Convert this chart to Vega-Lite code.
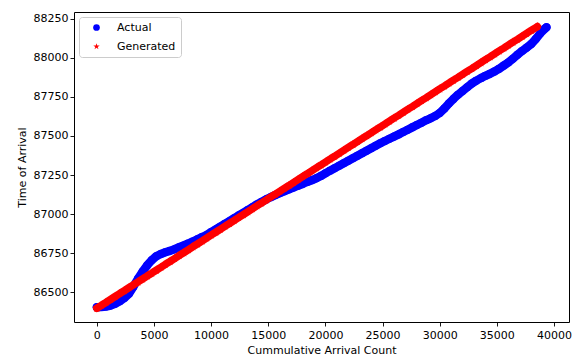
{
  "$schema": "https://vega.github.io/schema/vega-lite/v6.json",
  "width": 495,
  "height": 310,
  "autosize": {"type": "none"},
  "padding": {"left": 74, "top": 12, "right": 3, "bottom": 34},
  "background": "white",
  "config": {
    "font": "DejaVu Sans",
    "view": {"stroke": "#000000", "strokeWidth": 1},
    "axis": {
      "domain": false,
      "grid": false,
      "tickColor": "#000000",
      "tickSize": 4,
      "tickWidth": 0.9,
      "labelColor": "#000000",
      "labelFontSize": 11,
      "labelFont": "DejaVu Sans",
      "titleColor": "#000000",
      "titleFontSize": 11,
      "titleFont": "DejaVu Sans",
      "titleFontWeight": "normal"
    },
    "legend": {
      "labelFontSize": 11,
      "labelFont": "DejaVu Sans",
      "labelColor": "#000000"
    }
  },
  "data": {
    "values": [
      {"series": "Actual", "x": 0, "y": 86405},
      {"series": "Actual", "x": 400, "y": 86406},
      {"series": "Actual", "x": 800, "y": 86409},
      {"series": "Actual", "x": 1200, "y": 86415},
      {"series": "Actual", "x": 1600, "y": 86426},
      {"series": "Actual", "x": 2000, "y": 86442},
      {"series": "Actual", "x": 2400, "y": 86463},
      {"series": "Actual", "x": 2800, "y": 86490},
      {"series": "Actual", "x": 3200, "y": 86536},
      {"series": "Actual", "x": 3600, "y": 86586},
      {"series": "Actual", "x": 4000, "y": 86631},
      {"series": "Actual", "x": 4400, "y": 86672},
      {"series": "Actual", "x": 4800, "y": 86705},
      {"series": "Actual", "x": 5200, "y": 86730},
      {"series": "Actual", "x": 5600, "y": 86745},
      {"series": "Actual", "x": 6000, "y": 86756},
      {"series": "Actual", "x": 6400, "y": 86765},
      {"series": "Actual", "x": 6800, "y": 86776},
      {"series": "Actual", "x": 7200, "y": 86788},
      {"series": "Actual", "x": 7600, "y": 86800},
      {"series": "Actual", "x": 8000, "y": 86812},
      {"series": "Actual", "x": 8400, "y": 86825},
      {"series": "Actual", "x": 8800, "y": 86839},
      {"series": "Actual", "x": 9200, "y": 86853},
      {"series": "Actual", "x": 9600, "y": 86866},
      {"series": "Actual", "x": 10000, "y": 86885},
      {"series": "Actual", "x": 10400, "y": 86902},
      {"series": "Actual", "x": 10800, "y": 86920},
      {"series": "Actual", "x": 11200, "y": 86938},
      {"series": "Actual", "x": 11600, "y": 86955},
      {"series": "Actual", "x": 12000, "y": 86973},
      {"series": "Actual", "x": 12400, "y": 86991},
      {"series": "Actual", "x": 12800, "y": 87008},
      {"series": "Actual", "x": 13200, "y": 87026},
      {"series": "Actual", "x": 13600, "y": 87044},
      {"series": "Actual", "x": 14000, "y": 87062},
      {"series": "Actual", "x": 14400, "y": 87078},
      {"series": "Actual", "x": 14800, "y": 87094},
      {"series": "Actual", "x": 15200, "y": 87108},
      {"series": "Actual", "x": 15600, "y": 87121},
      {"series": "Actual", "x": 16000, "y": 87134},
      {"series": "Actual", "x": 16400, "y": 87146},
      {"series": "Actual", "x": 16800, "y": 87158},
      {"series": "Actual", "x": 17200, "y": 87170},
      {"series": "Actual", "x": 17600, "y": 87182},
      {"series": "Actual", "x": 18000, "y": 87193},
      {"series": "Actual", "x": 18400, "y": 87206},
      {"series": "Actual", "x": 18800, "y": 87217},
      {"series": "Actual", "x": 19200, "y": 87229},
      {"series": "Actual", "x": 19600, "y": 87244},
      {"series": "Actual", "x": 20000, "y": 87261},
      {"series": "Actual", "x": 20400, "y": 87278},
      {"series": "Actual", "x": 20800, "y": 87294},
      {"series": "Actual", "x": 21200, "y": 87309},
      {"series": "Actual", "x": 21600, "y": 87325},
      {"series": "Actual", "x": 22000, "y": 87341},
      {"series": "Actual", "x": 22400, "y": 87357},
      {"series": "Actual", "x": 22800, "y": 87373},
      {"series": "Actual", "x": 23200, "y": 87389},
      {"series": "Actual", "x": 23600, "y": 87405},
      {"series": "Actual", "x": 24000, "y": 87421},
      {"series": "Actual", "x": 24400, "y": 87437},
      {"series": "Actual", "x": 24800, "y": 87453},
      {"series": "Actual", "x": 25200, "y": 87468},
      {"series": "Actual", "x": 25600, "y": 87482},
      {"series": "Actual", "x": 26000, "y": 87496},
      {"series": "Actual", "x": 26400, "y": 87510},
      {"series": "Actual", "x": 26800, "y": 87525},
      {"series": "Actual", "x": 27200, "y": 87540},
      {"series": "Actual", "x": 27600, "y": 87555},
      {"series": "Actual", "x": 28000, "y": 87570},
      {"series": "Actual", "x": 28400, "y": 87585},
      {"series": "Actual", "x": 28800, "y": 87600},
      {"series": "Actual", "x": 29200, "y": 87613},
      {"series": "Actual", "x": 29600, "y": 87628},
      {"series": "Actual", "x": 30000, "y": 87647},
      {"series": "Actual", "x": 30400, "y": 87675},
      {"series": "Actual", "x": 30800, "y": 87708},
      {"series": "Actual", "x": 31200, "y": 87737},
      {"series": "Actual", "x": 31600, "y": 87764},
      {"series": "Actual", "x": 32000, "y": 87788},
      {"series": "Actual", "x": 32400, "y": 87812},
      {"series": "Actual", "x": 32800, "y": 87835},
      {"series": "Actual", "x": 33200, "y": 87854},
      {"series": "Actual", "x": 33600, "y": 87870},
      {"series": "Actual", "x": 34000, "y": 87885},
      {"series": "Actual", "x": 34400, "y": 87898},
      {"series": "Actual", "x": 34800, "y": 87913},
      {"series": "Actual", "x": 35200, "y": 87930},
      {"series": "Actual", "x": 35600, "y": 87950},
      {"series": "Actual", "x": 36000, "y": 87970},
      {"series": "Actual", "x": 36400, "y": 87994},
      {"series": "Actual", "x": 36800, "y": 88019},
      {"series": "Actual", "x": 37200, "y": 88043},
      {"series": "Actual", "x": 37600, "y": 88065},
      {"series": "Actual", "x": 38000, "y": 88088},
      {"series": "Actual", "x": 38400, "y": 88120},
      {"series": "Actual", "x": 38800, "y": 88157},
      {"series": "Actual", "x": 39200, "y": 88186},
      {"series": "Actual", "x": 39343, "y": 88195},
      {"series": "Generated", "x": 0, "y": 86398},
      {"series": "Generated", "x": 400, "y": 86417},
      {"series": "Generated", "x": 800, "y": 86435},
      {"series": "Generated", "x": 1200, "y": 86454},
      {"series": "Generated", "x": 1600, "y": 86473},
      {"series": "Generated", "x": 2000, "y": 86492},
      {"series": "Generated", "x": 2400, "y": 86510},
      {"series": "Generated", "x": 2800, "y": 86529},
      {"series": "Generated", "x": 3200, "y": 86548},
      {"series": "Generated", "x": 3600, "y": 86566},
      {"series": "Generated", "x": 4000, "y": 86585},
      {"series": "Generated", "x": 4400, "y": 86604},
      {"series": "Generated", "x": 4800, "y": 86622},
      {"series": "Generated", "x": 5200, "y": 86641},
      {"series": "Generated", "x": 5600, "y": 86660},
      {"series": "Generated", "x": 6000, "y": 86679},
      {"series": "Generated", "x": 6400, "y": 86697},
      {"series": "Generated", "x": 6800, "y": 86716},
      {"series": "Generated", "x": 7200, "y": 86735},
      {"series": "Generated", "x": 7600, "y": 86753},
      {"series": "Generated", "x": 8000, "y": 86772},
      {"series": "Generated", "x": 8400, "y": 86791},
      {"series": "Generated", "x": 8800, "y": 86809},
      {"series": "Generated", "x": 9200, "y": 86828},
      {"series": "Generated", "x": 9600, "y": 86847},
      {"series": "Generated", "x": 10000, "y": 86866},
      {"series": "Generated", "x": 10400, "y": 86884},
      {"series": "Generated", "x": 10800, "y": 86903},
      {"series": "Generated", "x": 11200, "y": 86922},
      {"series": "Generated", "x": 11600, "y": 86940},
      {"series": "Generated", "x": 12000, "y": 86959},
      {"series": "Generated", "x": 12400, "y": 86978},
      {"series": "Generated", "x": 12800, "y": 86996},
      {"series": "Generated", "x": 13200, "y": 87015},
      {"series": "Generated", "x": 13600, "y": 87034},
      {"series": "Generated", "x": 14000, "y": 87053},
      {"series": "Generated", "x": 14400, "y": 87071},
      {"series": "Generated", "x": 14800, "y": 87090},
      {"series": "Generated", "x": 15200, "y": 87109},
      {"series": "Generated", "x": 15600, "y": 87127},
      {"series": "Generated", "x": 16000, "y": 87146},
      {"series": "Generated", "x": 16400, "y": 87165},
      {"series": "Generated", "x": 16800, "y": 87183},
      {"series": "Generated", "x": 17200, "y": 87202},
      {"series": "Generated", "x": 17600, "y": 87221},
      {"series": "Generated", "x": 18000, "y": 87240},
      {"series": "Generated", "x": 18400, "y": 87258},
      {"series": "Generated", "x": 18800, "y": 87277},
      {"series": "Generated", "x": 19200, "y": 87296},
      {"series": "Generated", "x": 19600, "y": 87314},
      {"series": "Generated", "x": 20000, "y": 87333},
      {"series": "Generated", "x": 20400, "y": 87352},
      {"series": "Generated", "x": 20800, "y": 87370},
      {"series": "Generated", "x": 21200, "y": 87389},
      {"series": "Generated", "x": 21600, "y": 87408},
      {"series": "Generated", "x": 22000, "y": 87427},
      {"series": "Generated", "x": 22400, "y": 87445},
      {"series": "Generated", "x": 22800, "y": 87464},
      {"series": "Generated", "x": 23200, "y": 87483},
      {"series": "Generated", "x": 23600, "y": 87501},
      {"series": "Generated", "x": 24000, "y": 87520},
      {"series": "Generated", "x": 24400, "y": 87539},
      {"series": "Generated", "x": 24800, "y": 87557},
      {"series": "Generated", "x": 25200, "y": 87576},
      {"series": "Generated", "x": 25600, "y": 87595},
      {"series": "Generated", "x": 26000, "y": 87614},
      {"series": "Generated", "x": 26400, "y": 87632},
      {"series": "Generated", "x": 26800, "y": 87651},
      {"series": "Generated", "x": 27200, "y": 87670},
      {"series": "Generated", "x": 27600, "y": 87688},
      {"series": "Generated", "x": 28000, "y": 87707},
      {"series": "Generated", "x": 28400, "y": 87726},
      {"series": "Generated", "x": 28800, "y": 87744},
      {"series": "Generated", "x": 29200, "y": 87763},
      {"series": "Generated", "x": 29600, "y": 87782},
      {"series": "Generated", "x": 30000, "y": 87801},
      {"series": "Generated", "x": 30400, "y": 87819},
      {"series": "Generated", "x": 30800, "y": 87838},
      {"series": "Generated", "x": 31200, "y": 87857},
      {"series": "Generated", "x": 31600, "y": 87875},
      {"series": "Generated", "x": 32000, "y": 87894},
      {"series": "Generated", "x": 32400, "y": 87913},
      {"series": "Generated", "x": 32800, "y": 87931},
      {"series": "Generated", "x": 33200, "y": 87950},
      {"series": "Generated", "x": 33600, "y": 87969},
      {"series": "Generated", "x": 34000, "y": 87988},
      {"series": "Generated", "x": 34400, "y": 88006},
      {"series": "Generated", "x": 34800, "y": 88025},
      {"series": "Generated", "x": 35200, "y": 88044},
      {"series": "Generated", "x": 35600, "y": 88062},
      {"series": "Generated", "x": 36000, "y": 88081},
      {"series": "Generated", "x": 36400, "y": 88100},
      {"series": "Generated", "x": 36800, "y": 88118},
      {"series": "Generated", "x": 37200, "y": 88137},
      {"series": "Generated", "x": 37600, "y": 88156},
      {"series": "Generated", "x": 38000, "y": 88175},
      {"series": "Generated", "x": 38400, "y": 88193},
      {"series": "Generated", "x": 38545, "y": 88200}
    ]
  },
  "encoding": {
    "x": {
      "field": "x",
      "type": "quantitative",
      "scale": {"domain": [-1995, 41312], "nice": false, "zero": false},
      "axis": {
        "title": "Cummulative Arrival Count",
        "values": [0, 5000, 10000, 15000, 20000, 25000, 30000, 35000, 40000],
        "format": "d",
        "labelPadding": 3,
        "titlePadding": 4
      }
    },
    "y": {
      "field": "y",
      "type": "quantitative",
      "scale": {"domain": [86310, 88293], "nice": false, "zero": false},
      "axis": {
        "title": "Time of Arrival",
        "values": [86500, 86750, 87000, 87250, 87500, 87750, 88000, 88250],
        "format": "d",
        "labelPadding": 2,
        "titlePadding": 6
      }
    }
  },
  "layer": [
    {
      "transform": [{"filter": "datum.series === 'Actual'"}],
      "mark": {"type": "line", "color": "#0000ff", "strokeWidth": 8.5, "strokeCap": "round", "strokeJoin": "round"}
    },
    {
      "transform": [{"filter": "datum.series === 'Actual'"}],
      "mark": {"type": "point", "filled": true, "opacity": 1, "size": 64, "strokeWidth": 0},
      "encoding": {
        "color": {
          "field": "series",
          "type": "nominal",
          "scale": {"domain": ["Actual", "Generated"], "range": ["#0000ff", "#ff0000"]},
          "legend": {
            "title": null,
            "orient": "none",
            "legendX": 5,
            "legendY": 5,
            "padding": 5,
            "fillColor": "rgba(255,255,255,0.8)",
            "strokeColor": "#cccccc",
            "cornerRadius": 3,
            "symbolSize": 45,
            "symbolOffset": 7,
            "labelOffset": 15,
            "rowPadding": 7
          }
        },
        "shape": {
          "field": "series",
          "type": "nominal",
          "scale": {
            "domain": ["Actual", "Generated"],
            "range": ["circle", "M0,-1L0.2245,-0.309L0.951,-0.309L0.363,0.118L0.588,0.809L0,0.382L-0.588,0.809L-0.363,0.118L-0.951,-0.309L-0.2245,-0.309Z"]
          },
          "legend": {
            "title": null,
            "orient": "none",
            "legendX": 5,
            "legendY": 5,
            "padding": 5,
            "fillColor": "rgba(255,255,255,0.8)",
            "strokeColor": "#cccccc",
            "cornerRadius": 3,
            "symbolSize": 45,
            "symbolOffset": 7,
            "labelOffset": 15,
            "rowPadding": 7
          }
        }
      }
    },
    {
      "transform": [{"filter": "datum.series === 'Generated'"}],
      "mark": {"type": "line", "color": "#ff0000", "strokeWidth": 7.5, "strokeCap": "round", "strokeJoin": "round"}
    },
    {
      "transform": [{"filter": "datum.series === 'Generated'"}],
      "mark": {"type": "point", "filled": true, "opacity": 1, "size": 85, "strokeWidth": 0},
      "encoding": {
        "color": {"field": "series", "type": "nominal"},
        "shape": {"field": "series", "type": "nominal"}
      }
    }
  ]
}
